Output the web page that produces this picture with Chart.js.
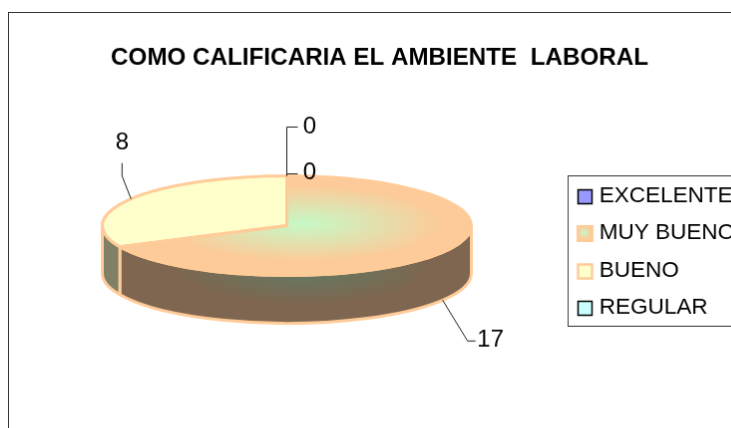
<!DOCTYPE html>
<html>
<head>
<meta charset="utf-8">
<script src="https://cdn.jsdelivr.net/npm/chart.js@4"></script>
<style>
html, body { margin: 0; padding: 0; width: 731px; height: 428px; overflow: hidden; background: #fff; }
canvas { position: absolute; left: 8px; top: 12px; border: 1px solid #333; }
</style>
</head>
<body>
<canvas id="grafico" width="780" height="480" style="width:780px;height:480px"></canvas>
<script>
const titulo = 'COMO CALIFICARIA EL AMBIENTE  LABORAL';
const categorias = ['EXCELENTE', 'MUY BUENO', 'BUENO', 'REGULAR'];
const valores = [0, 17, 8, 0];

const coresLegenda = ['#9999FF', '#FFCC99', '#FFFFCC', '#CCFFFF'];
const bordasLegenda = ['#000000', '#FFCC99', '#FFCC99', '#000000'];
const larguraBorda = [1.5, 3, 2.5, 1.5];
const coresParede = ['#4D4D80', '#7F6650', '#7F8066', '#668080'];

// guia de cada rotulo: pontos relativos ao ponto da fatia
const guias = [
  [[0, -49], [11, -49]],
  [[25, 41], [33, 41]],
  [[-9, -23], [-9, -36]],
  [[0, -2], [11, -2]]
];
const rotulos = [[23, -49], [48, 40], [-9, -56], [23, -3]];

// pizza "achatada"
const centroX = 278.5, centroY = 213.5, raioX = 185, raioY = 50, altura = 48;
const borda = '#FFCC99';

const ctx = document.getElementById('grafico').getContext('2d');
const fonte = 'Liberation Sans, Arial, sans-serif';

// degrade da fatia maior, nas coordenadas da pizza antes de achatar
function corFatia(context) {
  const i = context.dataIndex;
  const area = context.chart.chartArea;
  if (i !== 1 || !area) return coresLegenda[i];
  const x = (area.left + area.right) / 2 + 16;
  const y = (area.top + area.bottom) / 2 - 8;
  const g = context.chart.ctx.createRadialGradient(x, y, 0, x, y, 140);
  g.addColorStop(0, '#C6F9C6');
  g.addColorStop(1, '#FDCB99');
  return g;
}

const pizza3d = {
  id: 'pizza3d',
  beforeDatasetsDraw(chart) {
    const c = chart.ctx;
    const arcos = chart.getDatasetMeta(0).data;
    arcos.forEach((arco, i) => {
      const ini = Math.max(arco.startAngle, 0);
      const fim = Math.min(arco.endAngle, Math.PI);
      if (valores[i] === 0 || fim <= ini) return;
      c.save();
      c.beginPath();
      c.ellipse(centroX, centroY, raioX, raioY, 0, ini, fim);
      c.ellipse(centroX, centroY + altura, raioX, raioY, 0, fim, ini, true);
      c.closePath();
      c.save();
      c.translate(centroX + 16, centroY + altura - 4);
      c.scale(1, raioY / raioX);
      if (i === 1) {
        const g = c.createRadialGradient(0, 0, 0, 0, 0, 130);
        g.addColorStop(0, '#637B63');
        g.addColorStop(1, '#7F6650');
        c.fillStyle = g;
      } else {
        c.fillStyle = coresParede[i];
      }
      c.fill();
      c.restore();
      c.strokeStyle = borda;
      c.lineWidth = 3;
      c.stroke();
      c.restore();
    });
    // achata a pizza desenhada pela biblioteca
    const a = arcos[0];
    c.save();
    c.translate(centroX, centroY);
    c.scale(1, raioY / raioX);
    c.translate(-a.x, -a.y);
  },
  afterDatasetsDraw(chart) {
    const c = chart.ctx;
    c.restore();
    const arcos = chart.getDatasetMeta(0).data;
    arcos.forEach((arco, i) => {
      if (valores[i] === 0) return;
      c.beginPath();
      c.moveTo(centroX, centroY);
      c.ellipse(centroX, centroY, raioX, raioY, 0, arco.startAngle, arco.endAngle);
      c.closePath();
      c.strokeStyle = borda;
      c.lineWidth = 3;
      c.stroke();
    });
    // guias e rotulos
    arcos.forEach((arco, i) => {
      const meio = (arco.startAngle + arco.endAngle) / 2;
      const px = centroX + raioX * Math.cos(meio);
      let py = centroY + raioY * Math.sin(meio);
      if (Math.sin(meio) > 0) py += altura;
      c.beginPath();
      c.moveTo(px, py);
      guias[i].forEach(p => c.lineTo(px + p[0], py + p[1]));
      c.strokeStyle = '#222';
      c.lineWidth = 1;
      c.stroke();
      c.fillStyle = '#000';
      c.font = '24px ' + fonte;
      c.textAlign = 'center';
      c.textBaseline = 'middle';
      c.fillText(String(valores[i]), px + rotulos[i][0], py + rotulos[i][1]);
    });
  },
  afterDraw(chart) {
    const c = chart.ctx;
    const leg = chart.legend;
    // moldura da legenda
    c.strokeStyle = '#333';
    c.lineWidth = 1;
    c.strokeRect(560.5, 163.5, 300, 151);
    // amostras da legenda, um pouco maiores que o padrao
    leg.legendHitBoxes.forEach((b, i) => {
      const y = Math.round(b.top + 4) + 0.5;
      const x = Math.round(b.left) + 0.5;
      if (i === 1) {
        const g = c.createRadialGradient(x + 6, y + 6, 0, x + 6, y + 6, 7);
        g.addColorStop(0, '#C6F9C6');
        g.addColorStop(1, '#FDCB99');
        c.fillStyle = g;
      } else {
        c.fillStyle = coresLegenda[i];
      }
      c.fillRect(x, y, 14, 14);
      c.strokeStyle = bordasLegenda[i];
      c.lineWidth = larguraBorda[i];
      c.strokeRect(x, y, 14, 14);
    });
  }
};

new Chart(ctx, {
  type: 'pie',
  data: {
    labels: categorias,
    datasets: [{
      data: valores,
      backgroundColor: corFatia,
      borderWidth: 0,
      radius: raioX,
      clip: false
    }]
  },
  options: {
    responsive: false,
    animation: false,
    layout: { padding: { left: 5, right: 42, bottom: 0 } },
    plugins: {
      title: {
        display: true,
        text: titulo,
        color: '#000',
        font: { family: fonte, size: 24.2, weight: 'bold' },
        padding: { top: 31, bottom: 10 }
      },
      tooltip: { enabled: false },
      legend: {
        position: 'right',
        labels: {
          color: '#000',
          font: { family: fonte, size: 22.5 },
          boxWidth: 10,
          boxHeight: 10,
          padding: 15,
          generateLabels: () => categorias.map((text, i) => ({
            text,
            index: i,
            fillStyle: 'rgba(0,0,0,0)',
            strokeStyle: 'rgba(0,0,0,0)',
            lineWidth: 0,
            hidden: false
          }))
        }
      }
    }
  },
  plugins: [pizza3d]
});
</script>
</body>
</html>
